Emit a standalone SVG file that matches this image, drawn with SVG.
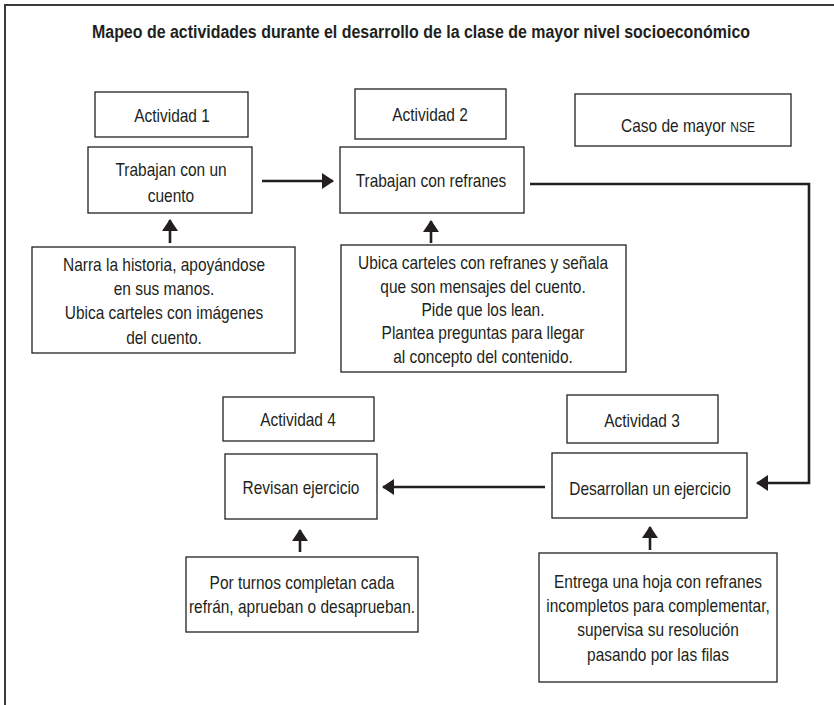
<svg xmlns="http://www.w3.org/2000/svg" width="834" height="705" viewBox="0 0 834 705">
<style>
text{font-family:"Liberation Sans Narrow","Liberation Sans",Arial,sans-serif;font-size:18px;fill:#231f20;text-anchor:middle}
.title{font-weight:bold;font-size:18px}
.box{fill:#fff;stroke:#231f20;stroke-width:1.3}
.conn{fill:none;stroke:#231f20;stroke-width:2.6}
.frame{fill:none;stroke:#3a3a3a;stroke-width:2}
</style>
<defs>
<marker id="ah" markerWidth="12" markerHeight="16" refX="11" refY="8" orient="auto" markerUnits="userSpaceOnUse">
<path d="M0,0 L12,8 L0,16 Z" fill="#231f20"/>
</marker>
</defs>
<rect width="834" height="705" fill="#fff"/>
<path class="frame" d="M5,705 V5 H834"/>
<text class="title" x="421" y="38" textLength="658" lengthAdjust="spacingAndGlyphs">Mapeo de actividades durante el desarrollo de la clase de mayor nivel socioeconómico</text>

<g id="connectors">
<line class="conn" x1="262" y1="181" x2="333" y2="181" marker-end="url(#ah)"/>
<path class="conn" d="M530,184 H809 V483 H757" marker-end="url(#ah)"/>
<line class="conn" x1="545" y1="487" x2="383" y2="487" marker-end="url(#ah)"/>
<line class="conn" x1="170" y1="243" x2="170" y2="220" marker-end="url(#ah)"/>
<line class="conn" x1="431" y1="243" x2="431" y2="221" marker-end="url(#ah)"/>
<line class="conn" x1="300" y1="552" x2="300" y2="530" marker-end="url(#ah)"/>
<line class="conn" x1="650" y1="550" x2="650" y2="527" marker-end="url(#ah)"/>
</g>

<g id="act1label"><rect class="box" x="95" y="92" width="153" height="45"/>
<g transform="translate(172 0) scale(0.86 1)"><text x="0" y="122">Actividad 1</text></g></g>
<g id="act1"><rect class="box" x="88" y="147" width="164" height="66"/>
<g transform="translate(171 0) scale(0.86 1)"><text x="0" y="176">Trabajan con un</text><text x="0" y="202">cuento</text></g></g>
<g id="act1desc"><rect class="box" x="32" y="247" width="263" height="106"/>
<g transform="translate(164 0) scale(0.86 1)">
<text x="0" y="271">Narra la historia, apoyándose</text>
<text x="0" y="295">en sus manos.</text>
<text x="0" y="319">Ubica carteles con imágenes</text>
<text x="0" y="344">del cuento.</text></g></g>

<g id="act2label"><rect class="box" x="355" y="89" width="151" height="50"/>
<g transform="translate(430 0) scale(0.86 1)"><text x="0" y="121">Actividad 2</text></g></g>
<g id="act2"><rect class="box" x="340" y="147" width="184" height="66"/>
<g transform="translate(431 0) scale(0.86 1)"><text x="0" y="187">Trabajan con refranes</text></g></g>
<g id="act2desc"><rect class="box" x="341" y="245" width="285" height="127"/>
<g transform="translate(483 0) scale(0.86 1)">
<text x="0" y="269">Ubica carteles con refranes y señala</text>
<text x="0" y="293">que son mensajes del cuento.</text>
<text x="0" y="316">Pide que los lean.</text>
<text x="0" y="339">Plantea preguntas para llegar</text>
<text x="0" y="363">al concepto del contenido.</text></g></g>

<g id="caso"><rect class="box" x="575" y="94" width="216" height="52"/>
<g transform="translate(688 0) scale(0.86 1)"><text x="0" y="132">Caso de mayor <tspan font-size="14">NSE</tspan></text></g></g>

<g id="act3label"><rect class="box" x="567" y="395" width="151" height="48"/>
<g transform="translate(642 0) scale(0.86 1)"><text x="0" y="427">Actividad 3</text></g></g>
<g id="act3"><rect class="box" x="552" y="453" width="195" height="65"/>
<g transform="translate(650 0) scale(0.86 1)"><text x="0" y="495">Desarrollan un ejercicio</text></g></g>
<g id="act3desc"><rect class="box" x="539" y="553" width="238" height="129"/>
<g transform="translate(658 0) scale(0.86 1)">
<text x="0" y="588">Entrega una hoja con refranes</text>
<text x="0" y="612">incompletos para complementar,</text>
<text x="0" y="636">supervisa su resolución</text>
<text x="0" y="661">pasando por las filas</text></g></g>

<g id="act4label"><rect class="box" x="223" y="397" width="151" height="44"/>
<g transform="translate(298 0) scale(0.86 1)"><text x="0" y="426">Actividad 4</text></g></g>
<g id="act4"><rect class="box" x="225" y="454" width="152" height="65"/>
<g transform="translate(301 0) scale(0.86 1)"><text x="0" y="494">Revisan ejercicio</text></g></g>
<g id="act4desc"><rect class="box" x="186" y="557" width="232" height="75"/>
<g transform="translate(302 0) scale(0.86 1)">
<text x="0" y="589">Por turnos completan cada</text>
<text x="0" y="613">refrán, aprueban o desaprueban.</text></g></g>
</svg>
